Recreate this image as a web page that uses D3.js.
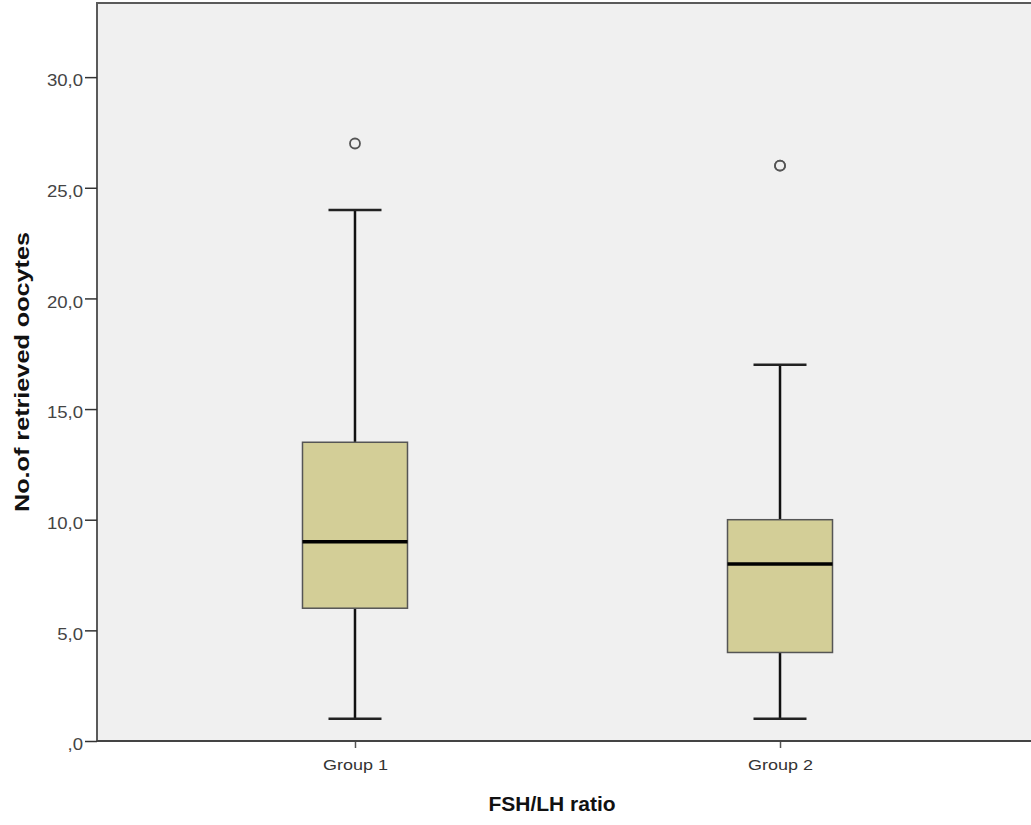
<!DOCTYPE html>
<html>
<head>
<meta charset="utf-8">
<script src="https://cdn.jsdelivr.net/npm/d3@7"></script>
<style>
  body { margin: 0; background: #fff; }
  text { font-family: Arial, "Liberation Sans", sans-serif; }
</style>
</head>
<body>
<div id="chart"></div>
<script>
const groups = ['Group 1', 'Group 2'];
const whiskerLow = [1, 1];
const q1 = [6, 4];
const medians = [9, 8];
const q3 = [13.5, 10];
const whiskerHigh = [24, 17];
const outliers = [[27], [26, 26]];
const yTicks = [0, 5, 10, 15, 20, 25, 30];

const w = 1031, h = 825;
const margin = { top: 3, left: 97, bottom: 84 };
const plotRight = 1038;

const svg = d3.select('#chart')
              .append('svg')
              .attr('width', w)
              .attr('height', h);

const yScale = d3.scaleLinear()
                 .domain([0, 33.35])
                 .range([h - margin.bottom, margin.top]);

const xScale = d3.scalePoint()
                 .domain(groups)
                 .range([margin.left, plotRight])
                 .padding(0.607);

const fmt = v => v === 0 ? ',0' : d3.format('.1f')(v).replace('.', ',');

// plot background
svg.append('rect')
   .attr('x', margin.left)
   .attr('y', margin.top)
   .attr('width', plotRight - margin.left)
   .attr('height', yScale(0) - margin.top)
   .attr('fill', '#f0f0f0')
   .attr('stroke', '#5a5a5a')
   .attr('stroke-width', 2);

// source picture is stretched sideways a bit, so the labels get a scaleX
const yAxis = d3.axisLeft(yScale).tickValues(yTicks).tickFormat(fmt).tickSize(12).tickPadding(2);
const gy = svg.append('g')
   .attr('transform', `translate(${margin.left}, 0)`)
   .call(yAxis);
gy.select('.domain').remove();
gy.selectAll('.tick line').attr('stroke', '#333').attr('stroke-width', 1.5);
gy.selectAll('.tick text')
  .attr('fill', '#444')
  .attr('x', 0)
  .attr('dy', '0.55em')
  .attr('transform', 'translate(-14,0) scale(1.16,1)')
  .style('font-size', '16px');

const xAxis = d3.axisBottom(xScale).tickSize(7).tickPadding(11);
const gx = svg.append('g')
   .attr('transform', `translate(0, ${yScale(0)})`)
   .call(xAxis);
gx.select('.domain').remove();
gx.selectAll('.tick line').attr('stroke', '#555').attr('stroke-width', 1.5);
gx.selectAll('.tick text')
  .attr('fill', '#333')
  .attr('transform', 'scale(1.2,1)')
  .style('font-size', '15px');

// bottom axis line drawn over
svg.append('line')
   .attr('x1', margin.left).attr('x2', plotRight)
   .attr('y1', yScale(0)).attr('y2', yScale(0))
   .attr('stroke', '#444').attr('stroke-width', 2);

const boxW = 105, capW = 53;
const g = svg.append('g');

groups.forEach((grp, i) => {
  const cx = xScale(grp);
  g.append('line')
   .attr('x1', cx).attr('x2', cx)
   .attr('y1', yScale(whiskerLow[i])).attr('y2', yScale(q1[i]))
   .attr('stroke', '#111').attr('stroke-width', 2.5);
  g.append('line')
   .attr('x1', cx).attr('x2', cx)
   .attr('y1', yScale(q3[i])).attr('y2', yScale(whiskerHigh[i]))
   .attr('stroke', '#111').attr('stroke-width', 2.5);
  [whiskerLow[i], whiskerHigh[i]].forEach(v => {
    g.append('line')
     .attr('x1', cx - capW / 2).attr('x2', cx + capW / 2)
     .attr('y1', yScale(v)).attr('y2', yScale(v))
     .attr('stroke', '#222').attr('stroke-width', 2.5);
  });
  g.append('rect')
   .attr('x', cx - boxW / 2)
   .attr('y', yScale(q3[i]))
   .attr('width', boxW)
   .attr('height', yScale(q1[i]) - yScale(q3[i]))
   .attr('fill', '#d3ce97')
   .attr('stroke', '#555')
   .attr('stroke-width', 1.5);
  g.append('line')
   .attr('x1', cx - boxW / 2).attr('x2', cx + boxW / 2)
   .attr('y1', yScale(medians[i])).attr('y2', yScale(medians[i]))
   .attr('stroke', '#000').attr('stroke-width', 3.5);
  outliers[i].forEach(v => {
    g.append('circle')
     .attr('cx', cx).attr('cy', yScale(v)).attr('r', 5)
     .attr('fill', 'none')
     .attr('stroke', '#555').attr('stroke-width', 1.8);
  });
});

svg.append('text')
   .attr('x', 552)
   .attr('y', 811)
   .attr('text-anchor', 'middle')
   .style('font-size', '21px')
   .style('font-weight', 'bold')
   .attr('fill', '#111')
   .text('FSH/LH ratio');

svg.append('text')
   .attr('transform', `translate(29, ${(margin.top + yScale(0)) / 2}) rotate(-90) scale(1.2,1)`)
   .attr('text-anchor', 'middle')
   .style('font-size', '21px')
   .style('font-weight', 'bold')
   .attr('fill', '#111')
   .text('No.of retrieved oocytes');
</script>
</body>
</html>
